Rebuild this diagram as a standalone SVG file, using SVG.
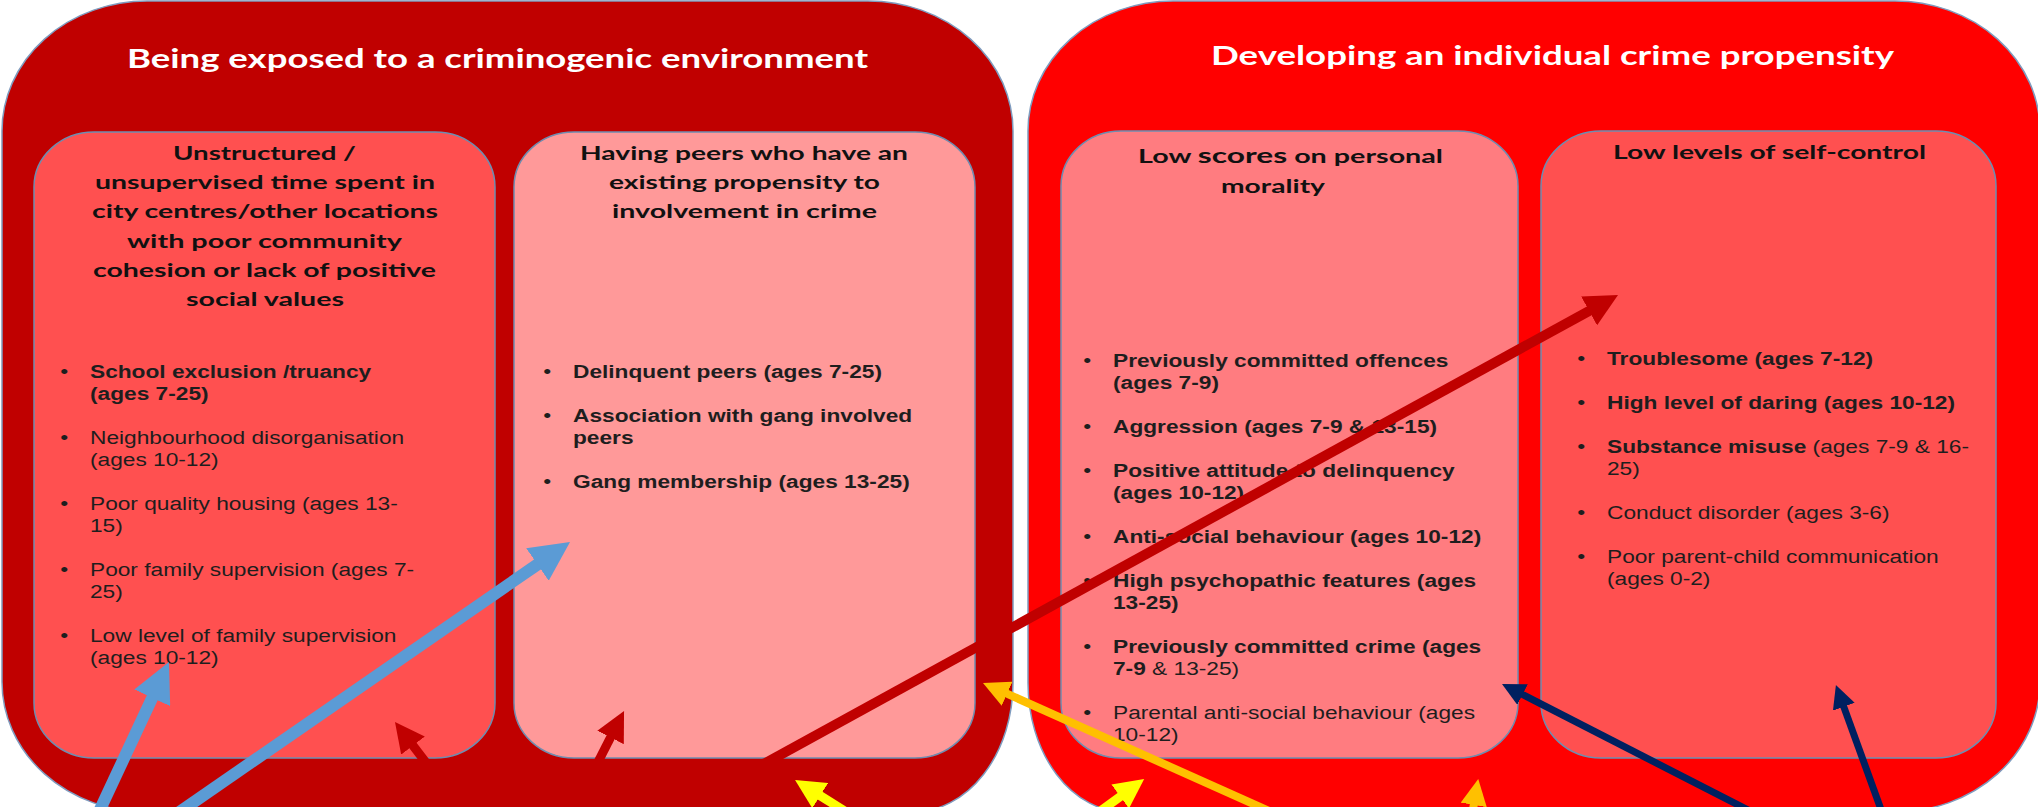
<svg xmlns="http://www.w3.org/2000/svg" width="2038" height="807" viewBox="0 0 2038 807">
<style>
.outer{stroke:#7F9CBF;stroke-width:1.5}
.inner{stroke:#6F8DB0;stroke-width:1.5}
.mt{font-family:Lato,"Open Sans","Liberation Sans",sans-serif;font-weight:bold;font-size:27px;fill:#FFFFFF}
.bt{font-family:Lato,"Open Sans","Liberation Sans",sans-serif;font-weight:bold;font-size:19px;fill:#111111}
.li{font-family:"Liberation Sans",Arial,sans-serif;font-size:19px;fill:#1E1E1E}
.b{font-weight:bold}
.arr{fill:none;stroke-linecap:butt}
</style>
<defs>
<marker id="ah-blue" viewBox="0 0 10 10" refX="1" refY="5" markerWidth="3.3" markerHeight="3.3" orient="auto" markerUnits="strokeWidth"><path d="M0,0 L10,5 L0,10 z" fill="#5B9BD5"/></marker>
<marker id="ah-red" viewBox="0 0 10 10" refX="1" refY="5" markerWidth="3.3" markerHeight="3.3" orient="auto" markerUnits="strokeWidth"><path d="M0,0 L10,5 L0,10 z" fill="#C00000"/></marker>
<marker id="ah-yellow" viewBox="0 0 10 10" refX="1" refY="5" markerWidth="3.3" markerHeight="3.3" orient="auto" markerUnits="strokeWidth"><path d="M0,0 L10,5 L0,10 z" fill="#FFFF00"/></marker>
<marker id="ah-gold" viewBox="0 0 10 10" refX="1" refY="5" markerWidth="3.3" markerHeight="3.3" orient="auto" markerUnits="strokeWidth"><path d="M0,0 L10,5 L0,10 z" fill="#FFC000"/></marker>
<marker id="ah-navy" viewBox="0 0 10 10" refX="1" refY="5" markerWidth="3.3" markerHeight="3.3" orient="auto" markerUnits="strokeWidth"><path d="M0,0 L10,5 L0,10 z" fill="#002060"/></marker>
</defs>
<rect x="0" y="0" width="2038" height="807" fill="#FFFFFF"/>

<g id="env">
<path class="outer" fill="#C00000" d="M147,1 H868 A145,130 0 0 1 1013,131 V683 A100,129 0 0 1 913,812 H147 A145,130 0 0 1 2,682 V131 A145,130 0 0 1 147,1 Z"/>
<text class="mt" x="127" y="68" textLength="741" lengthAdjust="spacingAndGlyphs">Being exposed to a criminogenic environment</text>
</g>

<g id="propensity">
<path class="outer" fill="#FF0000" d="M1173,1 H1895 A145,130 0 0 1 2040,131 V682 A145,130 0 0 1 1895,812 H1125 A97,129 0 0 1 1028,683 V131 A145,130 0 0 1 1173,1 Z"/>
<text class="mt" x="1211" y="65" textLength="683" lengthAdjust="spacingAndGlyphs">Developing an individual crime propensity</text>
</g>

<g id="unstructured">
<rect class="inner" x="34" y="132" width="461" height="626" rx="60" ry="55" fill="#FF5050"/>
<text class="bt" x="173" y="160" textLength="183" lengthAdjust="spacingAndGlyphs">Unstructured /</text>
<text class="bt" x="95" y="189" textLength="340" lengthAdjust="spacingAndGlyphs">unsupervised time spent in</text>
<text class="bt" x="92" y="218" textLength="346" lengthAdjust="spacingAndGlyphs">city centres/other locations</text>
<text class="bt" x="127" y="248" textLength="275" lengthAdjust="spacingAndGlyphs">with poor community</text>
<text class="bt" x="93" y="277" textLength="343" lengthAdjust="spacingAndGlyphs">cohesion or lack of positive</text>
<text class="bt" x="186" y="306" textLength="158" lengthAdjust="spacingAndGlyphs">social values</text>
<g transform="translate(90,0) scale(1.195,1)">
<text class="li" x="-25" y="378">•</text>
<text class="li b" x="0" y="378">School exclusion /truancy</text>
<text class="li b" x="0" y="400">(ages 7-25)</text>
<text class="li" x="-25" y="444">•</text>
<text class="li" x="0" y="444">Neighbourhood disorganisation</text>
<text class="li" x="0" y="466">(ages 10-12)</text>
<text class="li" x="-25" y="510">•</text>
<text class="li" x="0" y="510">Poor quality housing (ages 13-</text>
<text class="li" x="0" y="532">15)</text>
<text class="li" x="-25" y="576">•</text>
<text class="li" x="0" y="576">Poor family supervision (ages 7-</text>
<text class="li" x="0" y="598">25)</text>
<text class="li" x="-25" y="642">•</text>
<text class="li" x="0" y="642">Low level of family supervision</text>
<text class="li" x="0" y="664">(ages 10-12)</text>
</g>
</g>

<g id="peers">
<rect class="inner" x="514" y="132" width="461" height="626" rx="60" ry="55" fill="#FF9999"/>
<text class="bt" x="580" y="160" textLength="328" lengthAdjust="spacingAndGlyphs">Having peers who have an</text>
<text class="bt" x="609" y="189" textLength="271" lengthAdjust="spacingAndGlyphs">existing propensity to</text>
<text class="bt" x="612" y="218" textLength="265" lengthAdjust="spacingAndGlyphs">involvement in crime</text>
<g transform="translate(573,0) scale(1.195,1)">
<text class="li" x="-25" y="378">•</text>
<text class="li b" x="0" y="378">Delinquent peers (ages 7-25)</text>
<text class="li" x="-25" y="422">•</text>
<text class="li b" x="0" y="422">Association with gang involved</text>
<text class="li b" x="0" y="444">peers</text>
<text class="li" x="-25" y="488">•</text>
<text class="li b" x="0" y="488">Gang membership (ages 13-25)</text>
</g>
</g>

<g id="morality">
<rect class="inner" x="1061" y="131" width="457" height="627" rx="60" ry="55" fill="#FF7C80"/>
<text class="bt" x="1138" y="163" textLength="305" lengthAdjust="spacingAndGlyphs">Low <tspan font-size="21">scores</tspan> on personal</text>
<text class="bt" x="1221" y="193" textLength="104" lengthAdjust="spacingAndGlyphs">morality</text>
<g transform="translate(1113,0) scale(1.195,1)">
<text class="li" x="-25" y="367">•</text>
<text class="li b" x="0" y="367">Previously committed offences</text>
<text class="li b" x="0" y="389">(ages 7-9)</text>
<text class="li" x="-25" y="433">•</text>
<text class="li b" x="0" y="433">Aggression (ages 7-9 &amp; 13-15)</text>
<text class="li" x="-25" y="477">•</text>
<text class="li b" x="0" y="477">Positive attitude to delinquency</text>
<text class="li b" x="0" y="499">(ages 10-12)</text>
<text class="li" x="-25" y="543">•</text>
<text class="li b" x="0" y="543">Anti-social behaviour (ages 10-12)</text>
<text class="li" x="-25" y="587">•</text>
<text class="li b" x="0" y="587">High psychopathic features (ages</text>
<text class="li b" x="0" y="609">13-25)</text>
<text class="li" x="-25" y="653">•</text>
<text class="li b" x="0" y="653">Previously committed crime (ages</text>
<text class="li" x="0" y="675"><tspan class="b">7-9</tspan> &amp; 13-25)</text>
<text class="li" x="-25" y="719">•</text>
<text class="li" x="0" y="719">Parental anti-social behaviour (ages</text>
<text class="li" x="0" y="741">10-12)</text>
</g>
</g>

<g id="selfcontrol">
<rect class="inner" x="1541" y="131" width="455" height="627" rx="60" ry="55" fill="#FF5050"/>
<text class="bt" x="1613" y="159" textLength="313" lengthAdjust="spacingAndGlyphs">Low levels of self-control</text>
<g transform="translate(1607,0) scale(1.195,1)">
<text class="li" x="-25" y="365">•</text>
<text class="li b" x="0" y="365">Troublesome (ages 7-12)</text>
<text class="li" x="-25" y="409">•</text>
<text class="li b" x="0" y="409">High level of daring (ages 10-12)</text>
<text class="li" x="-25" y="453">•</text>
<text class="li" x="0" y="453"><tspan class="b">Substance misuse</tspan> (ages 7-9 &amp; 16-</text>
<text class="li" x="0" y="475">25)</text>
<text class="li" x="-25" y="519">•</text>
<text class="li" x="0" y="519">Conduct disorder (ages 3-6)</text>
<text class="li" x="-25" y="563">•</text>
<text class="li" x="0" y="563">Poor parent-child communication</text>
<text class="li" x="0" y="585">(ages 0-2)</text>
</g>
</g>

<g id="connectors">
<line class="arr" x1="97" y1="816" x2="153.9" y2="694.2" stroke="#5B9BD5" stroke-width="12" marker-end="url(#ah-blue)"/>
<line class="arr" x1="178" y1="813" x2="540.7" y2="562.2" stroke="#5B9BD5" stroke-width="12" marker-end="url(#ah-blue)"/>
<line class="arr" x1="466" y1="815" x2="411.2" y2="743.2" stroke="#C00000" stroke-width="9" marker-end="url(#ah-red)"/>
<line class="arr" x1="571" y1="815" x2="611.9" y2="734.8" stroke="#C00000" stroke-width="9" marker-end="url(#ah-red)"/>
<line class="arr" x1="678" y1="811" x2="1592" y2="309.3" stroke="#C00000" stroke-width="10" marker-end="url(#ah-red)"/>
<line class="arr" x1="851" y1="815" x2="817.7" y2="794.1" stroke="#FFFF00" stroke-width="9" marker-end="url(#ah-yellow)"/>
<line class="arr" x1="1278" y1="815" x2="1004.7" y2="692.7" stroke="#FFC000" stroke-width="8" marker-end="url(#ah-gold)"/>
<line class="arr" x1="1095" y1="815" x2="1122.6" y2="794.8" stroke="#FFFF00" stroke-width="9" marker-end="url(#ah-yellow)"/>
<line class="arr" x1="1472" y1="815" x2="1474.2" y2="802.3" stroke="#FFC000" stroke-width="8" marker-end="url(#ah-gold)"/>
<line class="arr" x1="1750" y1="811" x2="1520.5" y2="693.5" stroke="#002060" stroke-width="7" marker-end="url(#ah-navy)"/>
<line class="arr" x1="1883" y1="815" x2="1843" y2="704.6" stroke="#002060" stroke-width="7" marker-end="url(#ah-navy)"/>
</g>
</svg>
